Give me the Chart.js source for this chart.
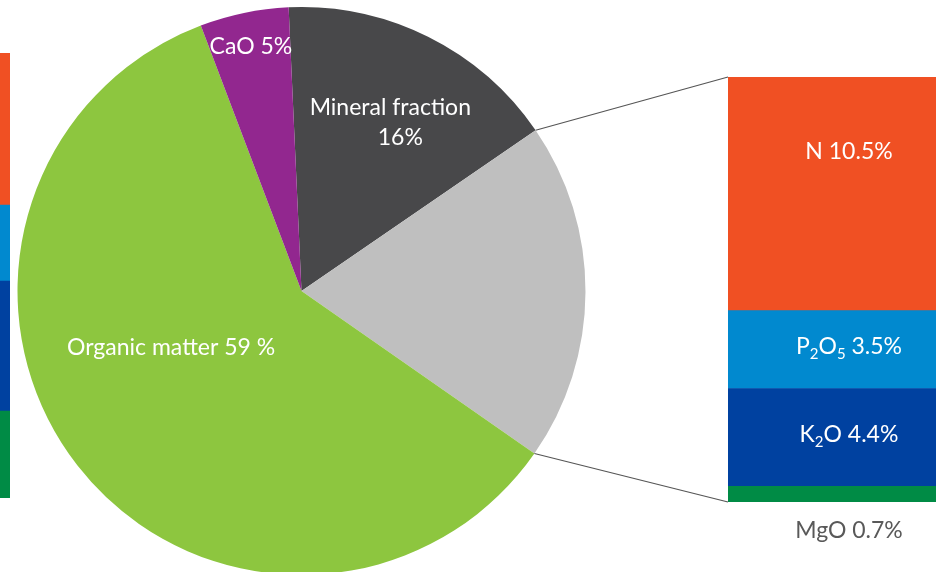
<!DOCTYPE html>
<html>
<head>
<meta charset="utf-8">
<script src="https://cdn.jsdelivr.net/npm/chart.js@4.4.1/dist/chart.umd.min.js"></script>
<style>
    html, body { margin: 0; padding: 0; width: 936px; height: 572px; overflow: hidden; background: #fff; }
    .box { position: absolute; top: 0; }
    #leftBox { left: -200px; width: 210px; height: 572px; }
    #rightBox { left: 728px; width: 242px; height: 572px; }
    #pieBox { left: 0; width: 936px; height: 590px; }
</style>
</head>
<body>
<div class="box" id="leftBox"><canvas id="leftBar"></canvas></div>
<div class="box" id="rightBox"><canvas id="rightBar"></canvas></div>
<div class="box" id="pieBox"><canvas id="pieChart"></canvas></div>

<script>
// Pie slices, clockwise from just left of 12 o'clock
const pieLabels = ['Mineral fraction', 'Nutrients', 'Organic matter', 'CaO'];
const pieValues = [16, 19.1, 59, 5];
const pieTexts = [['Mineral fraction', '16%'], [], ['Organic matter 59 %'], ['CaO 5%']];
const pieColors = ['#48484a', '#bfbfbf', '#8dc63f', '#92278f'];

// Breakdown of the nutrient slice (top to bottom of the bar)
const nutrientNames = ['N', 'P_2O_5', 'K_2O', 'MgO'];
const nutrientValues = [10.5, 3.5, 4.4, 0.7];
const nutrientColors = ['#f05023', '#0189cf', '#0041a0', '#008b45'];

// Bar cut off at the left edge of the picture (top to bottom)
const leftValues = [15.2, 7.6, 13.0, 8.7];

const FONT = 'Lato, "Open Sans", sans-serif';
const FS = 23;

// draw "P_2O_5 3.5%" style text with subscripts, centred on x
function drawRich(ctx, text, x, y, size, color) {
    const parts = [];
    text.split(/(_\d)/).forEach(p => {
        if (!p) return;
        if (p[0] === '_') parts.push({ t: p.slice(1), sub: true });
        else parts.push({ t: p, sub: false });
    });
    const subSize = Math.round(size * 0.65);
    let total = 0;
    parts.forEach(p => {
        ctx.font = `${p.sub ? subSize : size}px ${FONT}`;
        p.w = ctx.measureText(p.t).width;
        total += p.w;
    });
    let cx = x - total / 2;
    ctx.fillStyle = color;
    ctx.textAlign = 'left';
    ctx.textBaseline = 'middle';
    parts.forEach(p => {
        ctx.font = `${p.sub ? subSize : size}px ${FONT}`;
        ctx.fillText(p.t, cx, p.sub ? y + size * 0.35 : y);
        cx += p.w;
    });
}

function stackedBar(canvasId, values, colors, padTop, padBottom, labelPlugin) {
    // Chart.js stacks the first dataset at the bottom, so reverse
    const datasets = values.map((v, i) => ({
        label: nutrientNames[i],
        data: [v],
        backgroundColor: colors[i],
        borderWidth: 0,
        barPercentage: 1,
        categoryPercentage: 1
    })).reverse();
    const total = values.reduce((a, b) => a + b, 0);
    return new Chart(document.getElementById(canvasId), {
        type: 'bar',
        data: { labels: [''], datasets: datasets },
        options: {
            responsive: true,
            maintainAspectRatio: false,
            animation: false,
            layout: { padding: { top: padTop, bottom: padBottom, left: 0, right: 0 } },
            plugins: { legend: { display: false }, tooltip: { enabled: false } },
            scales: {
                x: { stacked: true, display: false },
                y: { stacked: true, display: false, min: 0, max: total }
            }
        },
        plugins: labelPlugin ? [labelPlugin] : []
    });
}

const barLabels = {
    id: 'barLabels',
    afterDatasetsDraw(chart) {
        const ctx = chart.ctx;
        const n = nutrientNames.length;
        nutrientNames.forEach((name, i) => {
            const bar = chart.getDatasetMeta(n - 1 - i).data[0];
            const txt = name + ' ' + nutrientValues[i] + '%';
            const h = bar.base - bar.y;
            if (h > 30) {
                const y = Math.min((bar.y + bar.base) / 2 - 3, bar.y + 75);
                drawRich(ctx, txt, bar.x, y, FS, '#ffffff');
            } else {
                drawRich(ctx, txt, bar.x, bar.base + 29, FS, '#595959');
            }
        });
    }
};

stackedBar('leftBar', leftValues, nutrientColors, 53, 74, null);
const rightChart = stackedBar('rightBar', nutrientValues, nutrientColors, 77, 70, barLabels);

const pieExtras = {
    id: 'pieExtras',
    afterDraw(chart) {
        const ctx = chart.ctx;
        const meta = chart.getDatasetMeta(0);

        // connector lines from the nutrient slice to the bar
        const arc = meta.data[1];
        const pieRect = chart.canvas.getBoundingClientRect();
        const barRect = rightChart.canvas.getBoundingClientRect();
        const ox = barRect.left - pieRect.left, oy = barRect.top - pieRect.top;
        const bm = rightChart.getDatasetMeta(nutrientNames.length - 1).data[0]; // top segment
        const bb = rightChart.getDatasetMeta(0).data[0]; // bottom segment
        const left = bm.x - bm.width / 2 + ox;
        const p1 = [arc.x + arc.outerRadius * Math.cos(arc.startAngle), arc.y + arc.outerRadius * Math.sin(arc.startAngle)];
        const p2 = [arc.x + arc.outerRadius * Math.cos(arc.endAngle), arc.y + arc.outerRadius * Math.sin(arc.endAngle)];
        ctx.save();
        ctx.strokeStyle = '#555555';
        ctx.lineWidth = 1.2;
        ctx.beginPath();
        ctx.moveTo(p1[0], p1[1]);
        ctx.lineTo(left, bm.y + oy);
        ctx.moveTo(p2[0], p2[1]);
        ctx.lineTo(left, bb.base + oy);
        ctx.stroke();
        ctx.restore();

        // slice labels: radius fraction, angle shift (deg), per-line x shift
        const place = [
            { r: 0.68, da: 2.6, dx: [-5, 5] },
            null,
            { r: 0.50, da: 14.6, dx: [0] },
            { r: 0.88, da: 0, dx: [0] }
        ];
        pieTexts.forEach((lines, i) => {
            if (!place[i] || !lines.length) return;
            const a = meta.data[i];
            const mid = (a.startAngle + a.endAngle) / 2 + place[i].da * Math.PI / 180;
            const cx = a.x + a.outerRadius * place[i].r * Math.cos(mid);
            const cy = a.y + a.outerRadius * place[i].r * Math.sin(mid);
            const lh = 30;
            lines.forEach((t, k) => {
                const y = cy + (k - (lines.length - 1) / 2) * lh;
                drawRich(ctx, t, cx + place[i].dx[k], y, FS, '#ffffff');
            });
        });
    }
};

new Chart(document.getElementById('pieChart'), {
    type: 'pie',
    data: {
        labels: pieLabels,
        datasets: [{ data: pieValues, backgroundColor: pieColors, borderWidth: 0 }]
    },
    options: {
        responsive: true,
        maintainAspectRatio: false,
        animation: false,
        rotation: -2.6,
        layout: { padding: { left: 17, top: 7, right: 350, bottom: 15 } },
        plugins: { legend: { display: false }, tooltip: { enabled: false } }
    },
    plugins: [pieExtras]
});
</script>
</body>
</html>
